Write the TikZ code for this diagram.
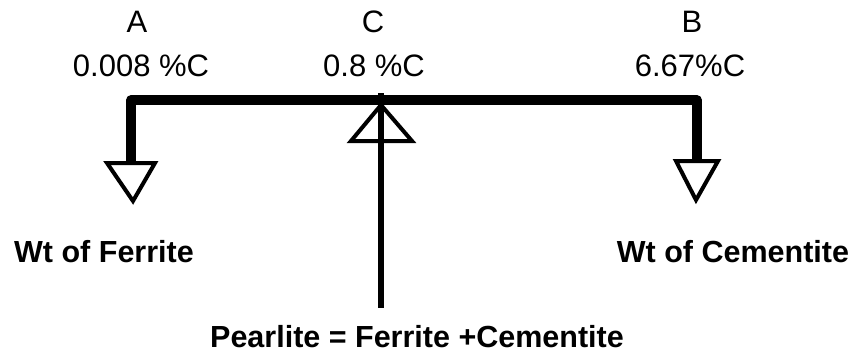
\documentclass[tikz,border=0pt]{standalone}
\usepackage{fontspec}
\setmainfont{Liberation Sans}
\usetikzlibrary{calc}

\begin{document}
\begin{tikzpicture}[
  x=1pt, y=-1pt,
  lbl/.style={inner sep=0pt, anchor=base, font=\fontsize{31}{37}\selectfont},
  boldlbl/.style={inner sep=0pt, anchor=base, font=\fontsize{30.5}{36}\selectfont\bfseries},
  beam/.style={line width=9.5pt, line join=round},
  weight/.style={line width=4pt, line join=miter, fill=white},
  post/.style={line width=5.5pt}
]
\useasboundingbox (0,0) rectangle (856,353);

% lever points
\coordinate (A) at (131,100);
\coordinate (C) at (381,100);
\coordinate (B) at (697,100);
\coordinate (hA) at (131,163);
\coordinate (hB) at (697,161);
\coordinate (foot) at (381,308);

\draw[beam] (hA) -- (A) -- (B) -- (hB);

% hanging weights
\draw[weight] ($(hA)+(-24,0)$) -- ($(hA)+(24,0)$) -- ($(hA)+(2,38)$) -- cycle;
\draw[weight] ($(hB)+(-21,0)$) -- ($(hB)+(21,0)$) -- ($(hB)+(-1,39)$) -- cycle;

% fulcrum
\draw[weight, fill=none] ($(C)+(0,5)$) -- ($(C)+(31,41)$) -- ($(C)+(-30,41)$) -- cycle;
\draw[post] ($(C)+(0,-7)$) -- (foot);

\node[lbl] (lA) at (137,33) {A};
\node[lbl] (pA) at (141,76) {0.008 \%C};
\node[lbl] (lC) at (373,33) {C};
\node[lbl] (pC) at (374,76) {0.8 \%C};
\node[lbl] (lB) at (692,33) {B};
\node[lbl] (pB) at (690,76) {6.67\%C};

\node[boldlbl] (wA) at (104,262) {Wt of Ferrite};
\node[boldlbl] (wB) at (733,262) {Wt of Cementite};
\node[boldlbl] (pearl) at (417,347) {Pearlite = Ferrite +Cementite};

\end{tikzpicture}
\end{document}
